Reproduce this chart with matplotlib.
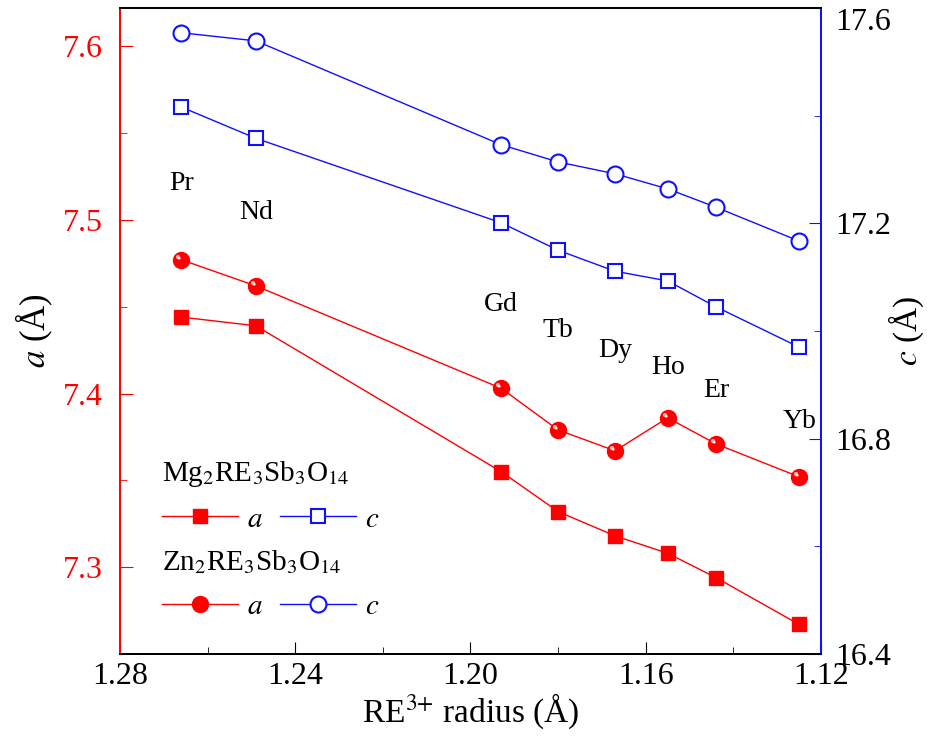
import matplotlib.pyplot as plt
import numpy as np
from matplotlib.path import Path
from matplotlib.ticker import MultipleLocator

plt.rcParams['font.family'] = ['Liberation Serif', 'DejaVu Serif']
plt.rcParams['mathtext.fontset'] = 'stix'

# RE3+ radius and lattice parameters
elements = ["Pr", "Nd", "Gd", "Tb", "Dy", "Ho", "Er", "Yb"]
radius = [1.266, 1.249, 1.193, 1.180, 1.167, 1.155, 1.144, 1.125]
mg_a = [7.444, 7.439, 7.355, 7.332, 7.318, 7.308, 7.294, 7.267]
mg_c = [17.416, 17.358, 17.201, 17.150, 17.111, 17.093, 17.045, 16.970]
zn_a = [7.477, 7.462, 7.403, 7.379, 7.367, 7.386, 7.371, 7.352]
zn_c = [17.554, 17.539, 17.346, 17.314, 17.292, 17.264, 17.230, 17.167]
# label heights (in a units)
label_y = [7.521, 7.504, 7.451, 7.436, 7.425, 7.415, 7.402, 7.384]

red = "#ff0000"
blue = "#1010ff"

fig = plt.figure(figsize=(9.27, 7.48), dpi=100)
ax = fig.add_axes([0.1294, 0.1257, 0.7563, 0.8636])
ax2 = ax.twinx()

# highlight for the "sphere" markers
t = np.linspace(0, 2 * np.pi, 40)
hl = Path(np.column_stack([-0.25 + 0.15 * np.cos(t), 0.25 + 0.15 * np.sin(t)]))

l1, = ax.plot(radius, mg_a, color=red, lw=1, marker="s", ms=10, mfc=red, mec=red)
l2, = ax.plot(radius, zn_a, color=red, lw=1, marker="o", ms=11.5, mfc=red, mec=red)
ax.plot(radius, zn_a, ls="none", marker=hl, ms=8, mfc="#ffb0b0", mec="none")
ax.plot(radius, zn_a, ls="none", marker=hl, ms=5, mfc="white", mec="none")
l3, = ax2.plot(radius, mg_c, color=blue, lw=1, marker="s", ms=10, mfc="white",
               mec=blue, mew=1.5)
l4, = ax2.plot(radius, zn_c, color=blue, lw=1, marker="o", ms=11.5, mfc="white",
               mec=blue, mew=1.5)

for el, x, y in zip(elements, radius, label_y):
    ax.text(x, y, el, fontsize=20, ha="center", va="center")

ax.set_xlim(1.28, 1.12)
ax.set_ylim(7.25, 7.622)
ax2.set_ylim(16.4, 17.6)

ax.xaxis.set_minor_locator(MultipleLocator(0.02))
ax.yaxis.set_minor_locator(MultipleLocator(0.05))
ax2.yaxis.set_minor_locator(MultipleLocator(0.2))
ax.set_xticks([1.28, 1.24, 1.20, 1.16, 1.12])
ax.set_xticklabels(["1.28", "1.24", "1.20", "1.16", "1.12"])
ax.set_yticks([7.3, 7.4, 7.5, 7.6])
ax.set_yticklabels(["7.3", "7.4", "7.5", "7.6"])
ax2.set_yticks([16.4, 16.8, 17.2, 17.6])
ax2.set_yticklabels(["16.4", "16.8", "17.2", "17.6"])

ax.tick_params(axis="x", which="both", direction="in", top=False, labelsize=23, pad=6)
ax.tick_params(axis="x", which="major", length=9)
ax.tick_params(axis="x", which="minor", length=5)
ax.tick_params(axis="y", which="both", direction="in", colors=red, labelsize=23, pad=12)
ax.tick_params(axis="y", which="major", length=9)
ax.tick_params(axis="y", which="minor", length=5)
ax2.tick_params(axis="y", which="both", direction="in", color=blue, labelcolor="black",
                labelsize=23, pad=10)
ax2.tick_params(axis="y", which="major", length=9)
ax2.tick_params(axis="y", which="minor", length=5)
# top label sits just under the frame edge, as in the original
ax2.yaxis.get_major_ticks()[-1].label2.set_verticalalignment("top")

for a in (ax, ax2):
    for s in a.spines.values():
        s.set_linewidth(1.3)
    a.spines["left"].set_color(red)
    a.spines["right"].set_color(blue)

ax.set_xlabel("RE$^{3{+}}$ radius (Å)", fontsize=24, labelpad=0)
ax.set_ylabel("$a$ (Å)", fontsize=25, labelpad=6)
ax2.set_ylabel("$c$ (Å)", fontsize=24, labelpad=-3)

leg_kw = dict(ncol=2, frameon=False, fontsize=21, title_fontsize=21, loc="upper left",
              handlelength=2.6, columnspacing=0.6, handletextpad=0.3, borderpad=0.2,
              labelspacing=0.6)
leg1 = ax2.legend([l1, l3], ["$a$", "$c$"], title="Mg$_2$RE$_3$Sb$_3$O$_{14}$",
                  bbox_to_anchor=(0.031, 0.334), **leg_kw)
leg1._legend_box.align = "left"
ax2.add_artist(leg1)
leg2 = ax2.legend([l2, l4], ["$a$", "$c$"], title="Zn$_2$RE$_3$Sb$_3$O$_{14}$",
                  bbox_to_anchor=(0.031, 0.195), **leg_kw)
leg2._legend_box.align = "left"

fig.savefig("out.png", dpi=100)
